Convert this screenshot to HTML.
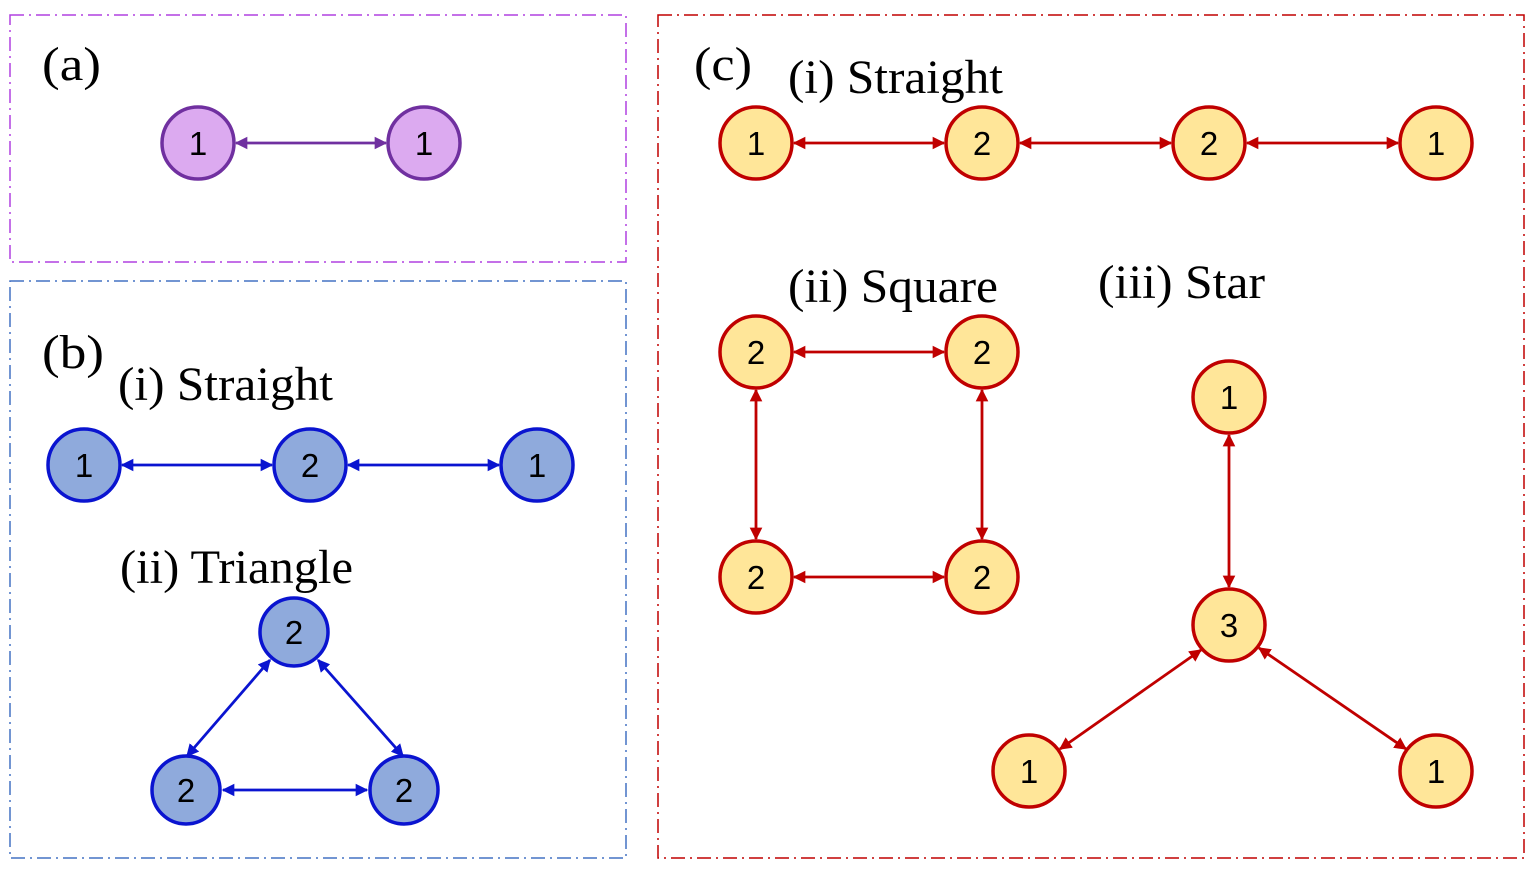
<!DOCTYPE html>
<html><head><style>body{margin:0;background:#fff}svg{display:block}</style></head><body>
<svg width="1530" height="873" viewBox="0 0 1530 873" xmlns="http://www.w3.org/2000/svg">
<defs>
<marker id="mp" viewBox="0 0 10 10" refX="9" refY="5" markerWidth="4.5" markerHeight="4.5" orient="auto-start-reverse"><path d="M0,0L10,5L0,10z" fill="#7030a0"/></marker>
<marker id="mb" viewBox="0 0 10 10" refX="9" refY="5" markerWidth="4.5" markerHeight="4.5" orient="auto-start-reverse"><path d="M0,0L10,5L0,10z" fill="#0a14d0"/></marker>
<marker id="mr" viewBox="0 0 10 10" refX="9" refY="5" markerWidth="4.5" markerHeight="4.5" orient="auto-start-reverse"><path d="M0,0L10,5L0,10z" fill="#c00000"/></marker>
</defs>
<g fill="none" stroke-width="1.5" stroke-dasharray="14,5,2,5">
<rect x="10" y="15" width="616" height="247" stroke="#b040e0"/>
<rect x="10" y="281" width="616" height="577" stroke="#4472c4"/>
<rect x="658" y="15" width="866" height="843" stroke="#c00000"/>
</g>
<g font-family="Liberation Serif, serif" font-size="48" fill="#000" lengthAdjust="spacingAndGlyphs">
<text x="42" y="80" textLength="59" lengthAdjust="spacingAndGlyphs">(a)</text>
<text x="42" y="368" textLength="62" lengthAdjust="spacingAndGlyphs">(b)</text>
<text x="118" y="400" textLength="215" lengthAdjust="spacingAndGlyphs">(i) Straight</text>
<text x="120" y="583" textLength="233" lengthAdjust="spacingAndGlyphs">(ii) Triangle</text>
<text x="694" y="80" textLength="58" lengthAdjust="spacingAndGlyphs">(c)</text>
<text x="788" y="93" textLength="215" lengthAdjust="spacingAndGlyphs">(i) Straight</text>
<text x="788" y="302" textLength="210" lengthAdjust="spacingAndGlyphs">(ii) Square</text>
<text x="1098" y="298" textLength="167" lengthAdjust="spacingAndGlyphs">(iii) Star</text>
</g>
<g stroke-width="2.8">
<line x1="236" y1="143" x2="386" y2="143" stroke="#7030a0" marker-start="url(#mp)" marker-end="url(#mp)"/>
<g stroke="#0a14d0" marker-start="url(#mb)" marker-end="url(#mb)">
<line x1="122" y1="465" x2="272" y2="465"/>
<line x1="348" y1="465" x2="499" y2="465"/>
<line x1="270" y1="660" x2="187" y2="756"/>
<line x1="318" y1="660" x2="403" y2="756"/>
<line x1="223" y1="790" x2="367" y2="790"/>
</g>
<g stroke="#c00000" marker-start="url(#mr)" marker-end="url(#mr)">
<line x1="794" y1="143" x2="944" y2="143"/>
<line x1="1020" y1="143" x2="1171" y2="143"/>
<line x1="1247" y1="143" x2="1398" y2="143"/>
<line x1="794" y1="352" x2="944" y2="352"/>
<line x1="794" y1="577" x2="944" y2="577"/>
<line x1="756" y1="390" x2="756" y2="539"/>
<line x1="982" y1="390" x2="982" y2="539"/>
<line x1="1229" y1="435" x2="1229" y2="587"/>
<line x1="1201" y1="650" x2="1060" y2="749"/>
<line x1="1259" y1="648" x2="1406" y2="749"/>
</g>
</g>
<g stroke-width="3.5" font-family="Liberation Sans, sans-serif" font-size="33" text-anchor="middle">
<g fill="#dcaaf0" stroke="#7030a0">
<circle cx="198" cy="143" r="36"/><circle cx="424" cy="143" r="36"/>
</g>
<g fill="#8faadc" stroke="#0a14d0">
<circle cx="84" cy="465" r="36"/><circle cx="310" cy="465" r="36"/><circle cx="537" cy="465" r="36"/>
<circle cx="294" cy="632" r="34"/><circle cx="186" cy="790" r="34"/><circle cx="404" cy="790" r="34"/>
</g>
<g fill="#ffe699" stroke="#c00000">
<circle cx="756" cy="143" r="36"/><circle cx="982" cy="143" r="36"/><circle cx="1209" cy="143" r="36"/><circle cx="1436" cy="143" r="36"/>
<circle cx="756" cy="352" r="36"/><circle cx="982" cy="352" r="36"/><circle cx="756" cy="577" r="36"/><circle cx="982" cy="577" r="36"/>
<circle cx="1229" cy="397" r="36"/><circle cx="1229" cy="625" r="36"/><circle cx="1029" cy="771" r="36"/><circle cx="1436" cy="771" r="36"/>
</g>
<g fill="#000" stroke="none">
<text x="198" y="155">1</text><text x="424" y="155">1</text>
<text x="84" y="477">1</text><text x="310" y="477">2</text><text x="537" y="477">1</text>
<text x="294" y="644">2</text><text x="186" y="802">2</text><text x="404" y="802">2</text>
<text x="756" y="155">1</text><text x="982" y="155">2</text><text x="1209" y="155">2</text><text x="1436" y="155">1</text>
<text x="756" y="364">2</text><text x="982" y="364">2</text><text x="756" y="589">2</text><text x="982" y="589">2</text>
<text x="1229" y="409">1</text><text x="1229" y="637">3</text><text x="1029" y="783">1</text><text x="1436" y="783">1</text>
</g>
</g>
</svg>
</body></html>
